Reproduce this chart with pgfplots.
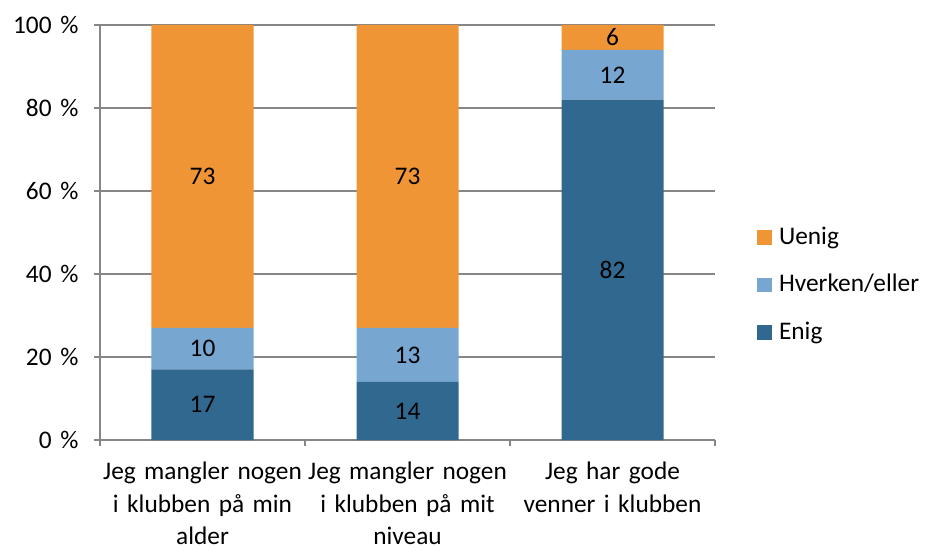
\documentclass[border=0pt]{standalone}
\usepackage{pgfplots}
\pgfplotsset{compat=1.18}
\usepackage{fontspec}
\setmainfont{Carlito}
\definecolor{uenig}{RGB}{239,149,54}
\definecolor{hverken}{RGB}{119,166,208}
\definecolor{enig}{RGB}{49,104,143}
\definecolor{gridc}{RGB}{134,134,134}
\begin{document}
\fontsize{19}{24.5}\selectfont
\begin{tikzpicture}[x=1pt,y=1pt]
\useasboundingbox (-75,-82.5) rectangle (620.25,330);
\begin{axis}[
  at={(0,0)}, anchor=south west,
  scale only axis, width=461.25pt, height=311.25pt,
  ybar stacked, bar width=76.5pt,
  xmin=-0.5, xmax=2.5, ymin=0, ymax=100,
  xtick={-0.5,0.5,1.5,2.5},
  x tick label as interval,
  xticklabels={{Jeg mangler nogen\\i klubben på min\\alder},{Jeg mangler nogen\\i klubben på mit\\niveau},{Jeg har gode\\venner i klubben}},
  x tick label style={text width=170pt, align=center, font=\fontsize{19}{24.5}\selectfont, yshift=-5.5pt},
  ytick={0,20,40,60,80,100},
  yticklabel={\pgfmathprintnumber{\tick}\hspace{0.35em}\%},
  /pgf/number format/assume math mode=true,
  y tick label style={font=\fontsize{19}{22}\selectfont, xshift=-5pt},
  ymajorgrids, grid style={gridc, line width=1pt},
  axis x line*=bottom, axis y line*=left,
  axis line style={gridc, line width=1pt, -},
  tick align=outside, major tick length=4.5pt,
  tick style={gridc, line width=1pt},
  legend style={at={(rel axis cs:1.062,0.3735)}, anchor=west, draw=none, fill=none,
    font=\fontsize{19}{22}\selectfont, row sep=15.5pt,
    /tikz/every odd column/.append style={column sep=3pt}},
  legend cell align=left,
  reverse legend,
  legend image code/.code={\fill[#1] (0pt,-5.6pt) rectangle (11.25pt,5.6pt);},
  visualization depends on={rawy \as \rawy},
  nodes near coords={\pgfmathprintnumber{\rawy}},
  every node near coord/.append style={anchor=center, text=black, font=\fontsize{19}{22}\selectfont},
]
\addplot[fill=enig, draw=none] coordinates {(0,17) (1,14) (2,82)};
\addplot[fill=hverken, draw=none] coordinates {(0,10) (1,13) (2,12)};
\addplot[fill=uenig, draw=none] coordinates {(0,73) (1,73) (2,6)};
\legend{Enig,Hverken/eller,Uenig}
\end{axis}
\end{tikzpicture}
\end{document}
